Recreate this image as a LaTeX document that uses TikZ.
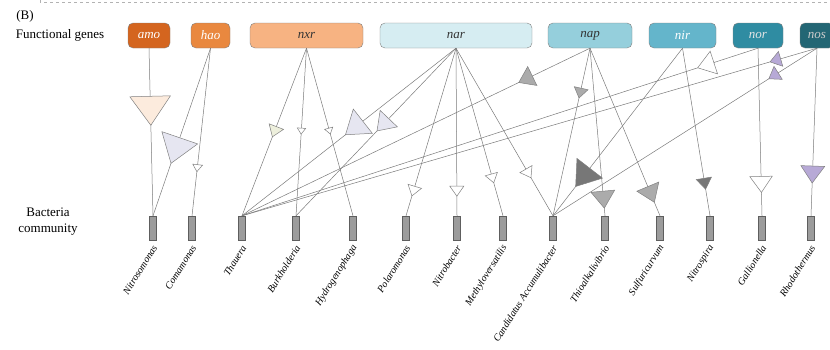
\documentclass[tikz,border=0pt]{standalone}
\usepackage{fontspec}
\setmainfont{Liberation Serif}
\usepackage{tikz}
\usetikzlibrary{shapes.geometric}

\definecolor{amocol}{HTML}{D4651F}
\definecolor{haocol}{HTML}{E9883F}
\definecolor{nxrcol}{HTML}{F7B382}
\definecolor{narcol}{HTML}{D6EDF2}
\definecolor{napcol}{HTML}{95CFDC}
\definecolor{nircol}{HTML}{64B5CB}
\definecolor{norcol}{HTML}{2F8CA2}
\definecolor{noscol}{HTML}{236674}
\definecolor{linkgray}{HTML}{7A7A7A}
\definecolor{bargray}{HTML}{9C9C9C}
\definecolor{peach}{HTML}{FCEBDD}
\definecolor{lavender}{HTML}{E6E6F1}
\definecolor{paleolive}{HTML}{EDEFDC}
\definecolor{midgray}{HTML}{ABABAB}
\definecolor{darkgray}{HTML}{777777}
\definecolor{lilac}{HTML}{B7A9D6}

\begin{document}
\begin{tikzpicture}[
    x = 1pt, y = -1pt,
    link/.style = {draw = linkgray, line width = 0.5pt},
    gene/.style = {rectangle,
      rounded corners = 5pt,
      draw = gray,
      minimum height = 25pt,
      inner sep = 0pt,
      font = \itshape\fontsize{13}{15}\selectfont},
    bar/.style = {rectangle,
      draw = bargray!60!black,
      fill = bargray,
      minimum width = 7pt,
      minimum height = 24pt,
      inner sep = 0pt},
    taxon/.style = {rotate = 58,
      anchor = east,
      inner sep = 0pt,
      font = \itshape\fontsize{10}{12}\selectfont},
    tri/.style 2 args = {isosceles triangle,
      isosceles triangle apex angle = 70,
      draw = gray,
      fill = #1,
      minimum size = #2,
      inner sep = 0pt,
      sloped,
      allow upside down}
    ]
    \clip (0, 0) rectangle (830, 349);
    \draw [dashed, gray!60] (40, 0) -- (40, 2) -- (830, 2);

    \node at (25, 16) [name = panel, font = \fontsize{13}{15}\selectfont] {(B)};
    \node at (60, 35) [name = genes, font = \fontsize{13}{15}\selectfont] {Functional genes};
    \node at (48, 222) [name = community, align = center,
      font = \fontsize{13}{16}\selectfont] {Bacteria\\community};

    % functional genes
    \node at (149, 35.5) [gene, name = amo, fill = amocol, minimum width = 42pt,
      text = white] {amo};
    \node at (210.5, 35.5) [gene, name = hao, fill = haocol, minimum width = 39pt,
      text = white] {hao};
    \node at (306.5, 35.5) [gene, name = nxr, fill = nxrcol, minimum width = 113pt,
      text = black!80] {nxr};
    \node at (456, 35.5) [gene, name = nar, fill = narcol, minimum width = 152pt,
      text = black!80] {nar};
    \node at (590, 35.5) [gene, name = nap, fill = napcol, minimum width = 84pt,
      text = black!80] {nap};
    \node at (682.5, 35.5) [gene, name = nir, fill = nircol, minimum width = 67pt,
      text = white] {nir};
    \node at (758, 35.5) [gene, name = nor, fill = norcol, minimum width = 50pt,
      text = white!90!black] {nor};
    \node at (817, 35.5) [gene, name = nos, fill = noscol, minimum width = 34pt,
      text = white!80!black] {nos};

    % bacteria
    \node at (153, 228) [bar, name = nitrosomonas] {};
    \node at (192, 228) [bar, name = comamonas] {};
    \node at (242, 228) [bar, name = thauera] {};
    \node at (296, 228) [bar, name = burkholderia] {};
    \node at (353, 228) [bar, name = hydrogenophaga] {};
    \node at (406, 228) [bar, name = polaromonas] {};
    \node at (457, 228) [bar, name = nitrobacter] {};
    \node at (503, 228) [bar, name = methyloversatilis] {};
    \node at (553, 228) [bar, name = accumulibacter] {};
    \node at (605, 228) [bar, name = thioalkalivibrio] {};
    \node at (660, 228) [bar, name = sulfuricurvum] {};
    \node at (710, 228) [bar, name = nitrospira] {};
    \node at (762, 228) [bar, name = gallionella] {};
    \node at (811, 228) [bar, name = rhodothermus] {};

    \node at (155, 246) [taxon, name = t1] {Nitrosomonas};
    \node at (194, 246) [taxon, name = t2] {Comamonas};
    \node at (244, 246) [taxon, name = t3] {Thauera};
    \node at (298, 246) [taxon, name = t4] {Burkholderia};
    \node at (355, 246) [taxon, name = t5] {Hydrogenophaga};
    \node at (408, 246) [taxon, name = t6] {Polaromonas};
    \node at (459, 246) [taxon, name = t7] {Nitrobacter};
    \node at (505, 246) [taxon, name = t8] {Methyloversatilis};
    \node at (555, 246) [taxon, name = t9] {Candidatus Accumulibacter};
    \node at (607, 246) [taxon, name = t10] {Thioalkalivibrio};
    \node at (662, 246) [taxon, name = t11] {Sulfuricurvum};
    \node at (712, 246) [taxon, name = t12] {Nitrospira};
    \node at (764, 246) [taxon, name = t13] {Gallionella};
    \node at (813, 246) [taxon, name = t14] {Rhodothermus};

    % links gene -> bacteria
    \draw [link] (amo.south) to node [tri = {peach}{29pt}, pos = 0.35] {} (nitrosomonas.north);
    \draw [link] (hao.south) to node [tri = {lavender}{27pt}, pos = 0.59] {} (nitrosomonas.north);
    \draw [link] (hao.south) to node [tri = {white}{7pt}, pos = 0.71] {} (comamonas.north);

    \draw [link] (nxr.south) to node [tri = {paleolive}{11pt}, pos = 0.49] {} (thauera.north);
    \draw [link] (nxr.south) to node [tri = {white}{6pt}, pos = 0.49] {} (burkholderia.north);
    \draw [link] (nxr.south) to node [tri = {white}{6pt}, pos = 0.49] {} (hydrogenophaga.north);

    \draw [link] (nar.south) to node [tri = {lavender}{22pt}, pos = 0.465] {} (thauera.north);
    \draw [link] (nar.south) to node [tri = {lavender}{17pt}, pos = 0.447] {} (burkholderia.north);
    \draw [link] (nar.south) to node [tri = {white}{10pt}, pos = 0.845] {} (polaromonas.north);
    \draw [link] (nar.south) to node [tri = {white}{10pt}, pos = 0.845] {} (nitrobacter.north);
    \draw [link] (nar.south) to node [tri = {white}{9pt}, pos = 0.77] {} (methyloversatilis.north);
    \draw [link] (nar.south) to node [tri = {white}{10pt}, pos = 0.74] {} (accumulibacter.north);

    \draw [link] (nap.south) to node [tri = {midgray}{15pt}, pos = 0.18] {} (thauera.north);
    \draw [link] (nap.south) to node [tri = {midgray}{10pt}, pos = 0.26] {} (accumulibacter.north);
    \draw [link] (nap.south) to node [tri = {midgray}{17pt}, pos = 0.89] {} (thioalkalivibrio.north);
    \draw [link] (nap.south) to node [tri = {midgray}{17pt}, pos = 0.86] {} (sulfuricurvum.north);

    \draw [link] (nir.south) to node [tri = {darkgray}{23pt}, pos = 0.756] {} (accumulibacter.north);
    \draw [link] (nir.south) to node [tri = {darkgray}{11pt}, pos = 0.80] {} (nitrospira.north);

    \draw [link] (nor.south) to node [tri = {white}{17pt}, pos = 0.097] {} (thauera.north);
    \draw [link] (nor.south) to node [tri = {white}{16pt}, pos = 0.80] {} (gallionella.north);

    \draw [link] (nos.south) to node [tri = {lilac}{11pt}, pos = 0.07] {} (thauera.north);
    \draw [link] (nos.south) to node [tri = {lilac}{11pt}, pos = 0.16] {} (accumulibacter.north);
    \draw [link] (nos.south) to node [tri = {lilac}{17pt}, pos = 0.74] {} (rhodothermus.north);

\end{tikzpicture}
\end{document}
